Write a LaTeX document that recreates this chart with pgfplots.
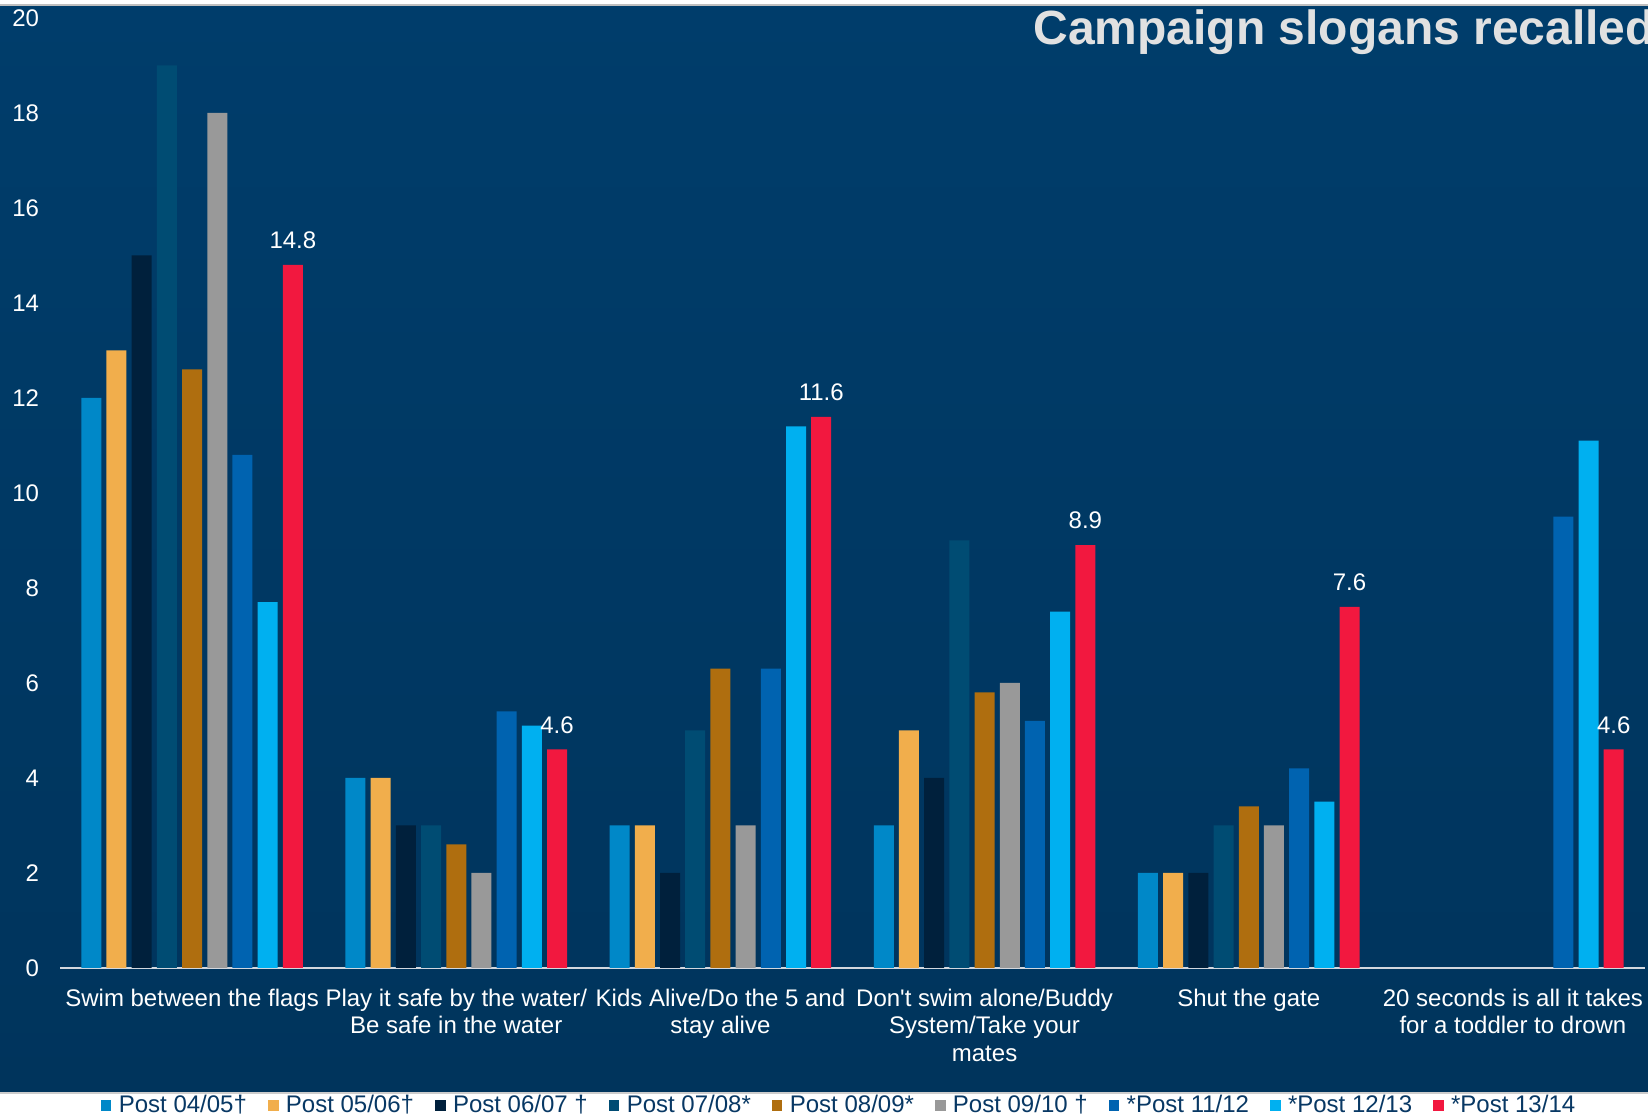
\documentclass[border=0pt]{standalone}
\usepackage{fontspec}
\setmainfont{Liberation Sans}
\usepackage{pgfplots}
\pgfplotsset{compat=1.18}
\definecolor{bgtop}{RGB}{0,61,107}
\definecolor{bgbot}{RGB}{0,52,92}
\definecolor{axisgray}{RGB}{210,215,222}
\definecolor{titlegray}{RGB}{225,225,225}
\definecolor{legtext}{RGB}{8,56,100}
\definecolor{cA}{RGB}{0,136,200}
\definecolor{cB}{RGB}{241,174,76}
\definecolor{cC}{RGB}{0,32,60}
\definecolor{cD}{RGB}{0,76,115}
\definecolor{cE}{RGB}{175,110,15}
\definecolor{cF}{RGB}{153,153,153}
\definecolor{cG}{RGB}{0,99,176}
\definecolor{cH}{RGB}{0,176,240}
\definecolor{cI}{RGB}{242,24,63}
\begin{document}
\begin{tikzpicture}
\useasboundingbox (0bp,0bp) rectangle (824bp,558bp);
\clip (0bp,0bp) rectangle (824bp,558bp);
\fill[white] (0bp,0bp) rectangle (824bp,558bp);
\shade[top color=bgtop, bottom color=bgbot] (0bp,11.5bp) rectangle (824bp,555.5bp);
\draw[gray!40, line width=0.8bp] (0bp,11.5bp) -- (824bp,11.5bp);
\draw[gray!50, line width=0.8bp] (0bp,555.5bp) -- (824bp,555.5bp);
\begin{axis}[
  at={(30bp,74bp)}, anchor=south west,
  scale only axis, width=792.5bp, height=475bp,
  xmin=-0.5, xmax=5.5, ymin=0, ymax=20,
  ybar=2.6bp, bar width=10bp,
  axis x line=bottom, axis y line=left,
  x axis line style={-, draw=axisgray, line width=1bp},
  y axis line style={draw=none},
  xtick={0,1,2,3,4,5},
  xticklabels={{Swim between the flags},{Play it safe by the water/\\Be safe in the water},{Kids Alive/Do the 5 and\\stay alive},{Don\textquotesingle t swim alone/Buddy\\System/Take your\\mates},{Shut the gate},{20 seconds is all it takes\\for a toddler to drown}},
  ytick={0,2,...,20},
  major tick length=0pt, tick style={draw=none},
  xticklabel style={align=center, font=\fontsize{12bp}{13.75bp}\selectfont, text=white, yshift=-7bp},
  yticklabel style={font=\fontsize{12bp}{14bp}\selectfont, text=white, xshift=-7bp},
  /pgf/number format/assume math mode=true,
  legend columns=9,
  legend style={at={(0.0259,-0.1448)}, anchor=west, draw=none, fill=none,
    inner sep=0pt, outer sep=0pt,
    nodes={inner sep=0pt, text=legtext, font=\fontsize{12bp}{14bp}\selectfont},
    /tikz/every odd column/.append style={column sep=3.7bp},
    /tikz/every even column/.append style={column sep=10.6bp}},
  legend image code/.code={\fill[#1] (0bp,-2.6bp) rectangle (5.2bp,2.6bp);},
]
\addplot[fill=cA, draw=none] coordinates {(0,12)(1,4)(2,3)(3,3)(4,2)};
\addplot[fill=cB, draw=none] coordinates {(0,13)(1,4)(2,3)(3,5)(4,2)};
\addplot[fill=cC, draw=none] coordinates {(0,15)(1,3)(2,2)(3,4)(4,2)};
\addplot[fill=cD, draw=none] coordinates {(0,19)(1,3)(2,5)(3,9)(4,3)};
\addplot[fill=cE, draw=none] coordinates {(0,12.6)(1,2.6)(2,6.3)(3,5.8)(4,3.4)};
\addplot[fill=cF, draw=none] coordinates {(0,18)(1,2)(2,3)(3,6)(4,3)};
\addplot[fill=cG, draw=none] coordinates {(0,10.8)(1,5.4)(2,6.3)(3,5.2)(4,4.2)(5,9.5)};
\addplot[fill=cH, draw=none] coordinates {(0,7.7)(1,5.1)(2,11.4)(3,7.5)(4,3.5)(5,11.1)};
\addplot[fill=cI, draw=none, nodes near coords, point meta=y,
  nodes near coords style={font=\fontsize{12bp}{14bp}\selectfont, text=white, yshift=4.5bp}]
  coordinates {(0,14.8)(1,4.6)(2,11.6)(3,8.9)(4,7.6)(5,4.6)};
\legend{Post 04/05†,Post 05/06†,Post 06/07 †,Post 07/08*,Post 08/09*,Post 09/10 †,*Post 11/12,*Post 12/13,*Post 13/14}
\end{axis}
\node[anchor=base west, inner sep=0pt, text=titlegray, font=\bfseries\fontsize{24bp}{29bp}\selectfont] at (516.5bp,535.5bp) {Campaign slogans recalled};
\end{tikzpicture}
\end{document}
